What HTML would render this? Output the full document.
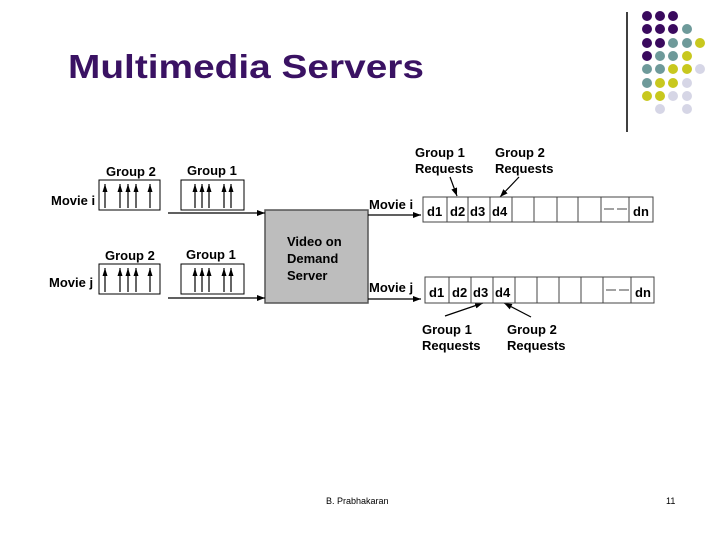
<!DOCTYPE html>
<html><head><style>body{margin:0;background:#fff}svg{display:block}text{font-family:"Liberation Sans",Arial,sans-serif}</style></head><body>
<svg width="720" height="540" viewBox="0 0 720 540" xmlns="http://www.w3.org/2000/svg">
<defs><marker id="a" markerWidth="8" markerHeight="6" refX="8" refY="3" orient="auto" markerUnits="userSpaceOnUse"><path d="M0,0L8,3L0,6z" fill="#000"/></marker>
<marker id="u" markerWidth="8" markerHeight="6" refX="8" refY="3" orient="auto" markerUnits="userSpaceOnUse"><path d="M0,0.5L8,3L0,5.5z" fill="#000"/></marker></defs>
<text x="68" y="78" font-size="33" font-weight="bold" fill="#3a1263" textLength="356" lengthAdjust="spacingAndGlyphs">Multimedia Servers</text>
<line x1="627" y1="12" x2="627" y2="132" stroke="#000" stroke-width="1.5"/>
<g>
<circle cx="647" cy="16" r="5" fill="#3a0a5e"/><circle cx="660" cy="16" r="5" fill="#3a0a5e"/><circle cx="673" cy="16" r="5" fill="#3a0a5e"/>
<circle cx="647" cy="29" r="5" fill="#3a0a5e"/><circle cx="660" cy="29" r="5" fill="#3a0a5e"/><circle cx="673" cy="29" r="5" fill="#3a0a5e"/><circle cx="687" cy="29" r="5" fill="#6e9a9a"/>
<circle cx="647" cy="43" r="5" fill="#3a0a5e"/><circle cx="660" cy="43" r="5" fill="#3a0a5e"/><circle cx="673" cy="43" r="5" fill="#6e9a9a"/><circle cx="687" cy="43" r="5" fill="#6e9a9a"/><circle cx="700" cy="43" r="5" fill="#c8c81e"/>
<circle cx="647" cy="56" r="5" fill="#3a0a5e"/><circle cx="660" cy="56" r="5" fill="#6e9a9a"/><circle cx="673" cy="56" r="5" fill="#6e9a9a"/><circle cx="687" cy="56" r="5" fill="#c8c81e"/>
<circle cx="647" cy="69" r="5" fill="#6e9a9a"/><circle cx="660" cy="69" r="5" fill="#6e9a9a"/><circle cx="673" cy="69" r="5" fill="#c8c81e"/><circle cx="687" cy="69" r="5" fill="#c8c81e"/><circle cx="700" cy="69" r="5" fill="#d6d6e6"/>
<circle cx="647" cy="83" r="5" fill="#6e9a9a"/><circle cx="660" cy="83" r="5" fill="#c8c81e"/><circle cx="673" cy="83" r="5" fill="#c8c81e"/><circle cx="687" cy="83" r="5" fill="#d6d6e6"/>
<circle cx="647" cy="96" r="5" fill="#c8c81e"/><circle cx="660" cy="96" r="5" fill="#c8c81e"/><circle cx="673" cy="96" r="5" fill="#d6d6e6"/><circle cx="687" cy="96" r="5" fill="#d6d6e6"/>
<circle cx="660" cy="109" r="5" fill="#d6d6e6"/><circle cx="687" cy="109" r="5" fill="#d6d6e6"/>
</g>
<rect x="265" y="210" width="103" height="93" fill="#bdbdbd" stroke="#555" stroke-width="1.5"/>
<g font-weight="bold" font-size="13" fill="#000">
<text x="106" y="176">Group 2</text><text x="187" y="175">Group 1</text>
<text x="105" y="260">Group 2</text><text x="186" y="259">Group 1</text>
<text x="51" y="205">Movie i</text><text x="49" y="287">Movie j</text>
<text x="287" y="246">Video on</text><text x="287" y="263">Demand</text><text x="287" y="280">Server</text>
<text x="369" y="209">Movie i</text><text x="369" y="292">Movie j</text>
<text x="415" y="157">Group 1</text><text x="415" y="173">Requests</text>
<text x="495" y="157">Group 2</text><text x="495" y="173">Requests</text>
<text x="422" y="334">Group 1</text><text x="422" y="350">Requests</text>
<text x="507" y="334">Group 2</text><text x="507" y="350">Requests</text>
</g>
<g fill="none" stroke="#000" stroke-width="1">
<rect x="99" y="180" width="61" height="30"/><rect x="181" y="180" width="63" height="30"/>
<rect x="99" y="264" width="61" height="30"/><rect x="181" y="264" width="63" height="30"/>
</g>
<g stroke="#000" stroke-width="1.2" marker-end="url(#u)">
<line x1="105" y1="208" x2="105" y2="184"/><line x1="120" y1="208" x2="120" y2="184"/><line x1="128" y1="208" x2="128" y2="184"/><line x1="136" y1="208" x2="136" y2="184"/><line x1="150" y1="208" x2="150" y2="184"/>
<line x1="195" y1="208" x2="195" y2="184"/><line x1="202" y1="208" x2="202" y2="184"/><line x1="209" y1="208" x2="209" y2="184"/><line x1="224" y1="208" x2="224" y2="184"/><line x1="231" y1="208" x2="231" y2="184"/>
<line x1="105" y1="292" x2="105" y2="268"/><line x1="120" y1="292" x2="120" y2="268"/><line x1="128" y1="292" x2="128" y2="268"/><line x1="136" y1="292" x2="136" y2="268"/><line x1="150" y1="292" x2="150" y2="268"/>
<line x1="195" y1="292" x2="195" y2="268"/><line x1="202" y1="292" x2="202" y2="268"/><line x1="209" y1="292" x2="209" y2="268"/><line x1="224" y1="292" x2="224" y2="268"/><line x1="231" y1="292" x2="231" y2="268"/>
</g>
<g stroke="#000" stroke-width="1.2" marker-end="url(#a)">
<line x1="168" y1="213" x2="265" y2="213"/><line x1="168" y1="298" x2="265" y2="298"/>
<line x1="368" y1="215" x2="421" y2="215"/><line x1="368" y1="299" x2="421" y2="299"/>
<line x1="450" y1="177" x2="457" y2="196"/><line x1="519" y1="177" x2="500" y2="197"/>
<line x1="445" y1="316" x2="483" y2="303"/><line x1="531" y1="317" x2="504" y2="303"/>
</g>
<g fill="none" stroke="#444" stroke-width="1">
<rect x="423" y="197" width="230" height="25"/>
<path d="M447 197V222M468 197V222M490 197V222M512 197V222M534 197V222M557 197V222M578 197V222M601 197V222M629 197V222"/>
<rect x="425" y="277" width="229" height="26"/>
<path d="M449 277V303M471 277V303M493 277V303M515 277V303M537 277V303M559 277V303M581 277V303M603 277V303M631 277V303"/>
<path d="M604 209h10M617 209h10M606 290h10M619 290h10"/>
</g>
<g font-weight="bold" font-size="13" fill="#000">
<text x="427" y="216">d1</text><text x="450" y="216">d2</text><text x="470" y="216">d3</text><text x="492" y="216">d4</text><text x="633" y="216">dn</text>
<text x="429" y="297">d1</text><text x="452" y="297">d2</text><text x="473" y="297">d3</text><text x="495" y="297">d4</text><text x="635" y="297">dn</text>
</g>
<text x="326" y="504" font-size="9">B. Prabhakaran</text>
<text x="666" y="504" font-size="9">11</text>
</svg>
</body></html>
